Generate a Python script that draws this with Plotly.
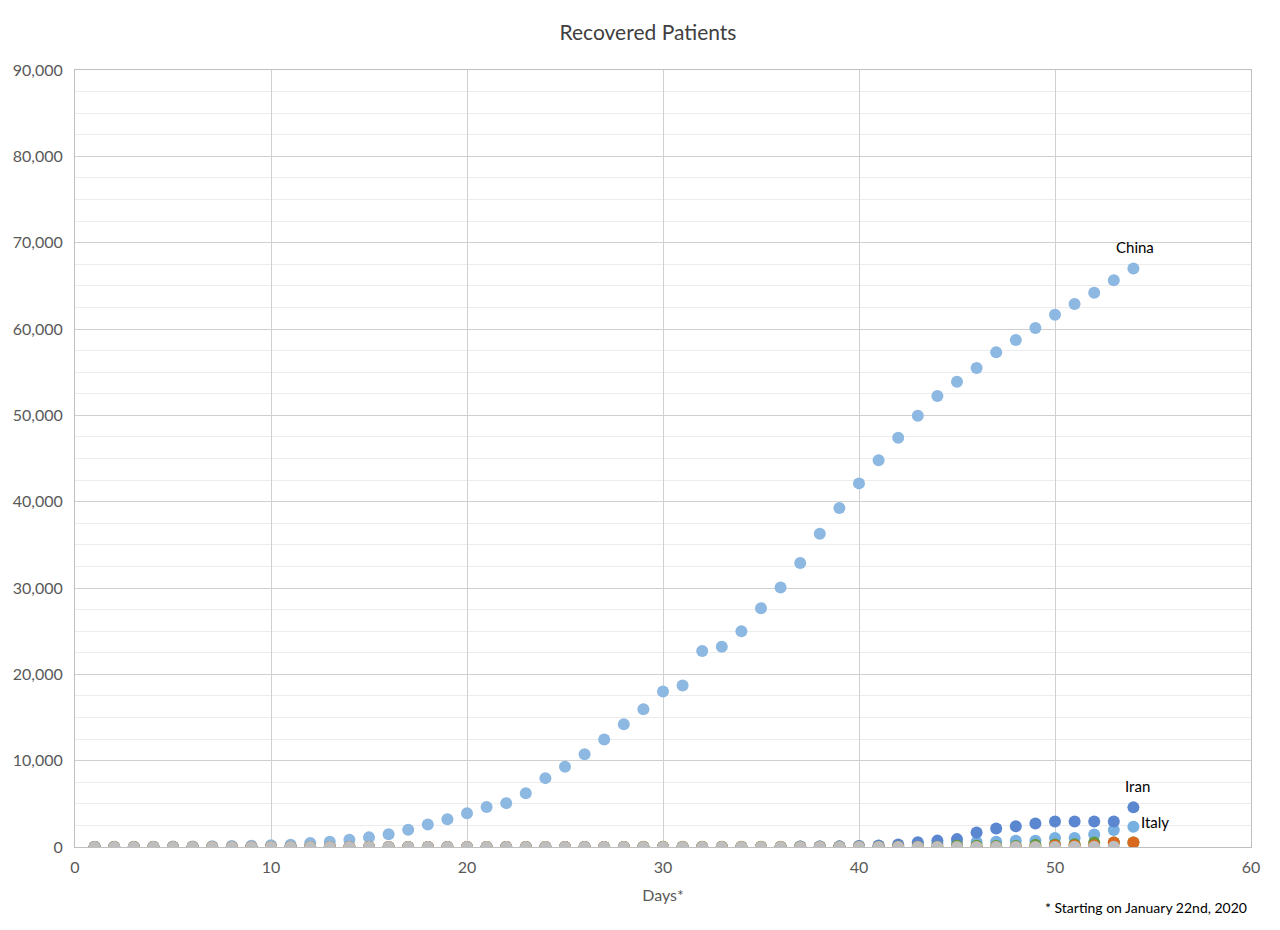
import plotly.graph_objects as go

# Tage seit dem 22. Januar 2020
days = list(range(1, 55))

china = [28, 30, 36, 39, 49, 58, 101, 120, 135, 214,
         275, 463, 614, 843, 1115, 1476, 1998, 2595, 3218, 3918,
         4636, 5082, 6217, 7977, 9298, 10755, 12462, 14206, 15962, 18014,
         18704, 22699, 23187, 24990, 27650, 30053, 32898, 36291, 39279, 42118,
         44810, 47404, 49955, 52240, 53888, 55478, 57320, 58735, 60106, 61644,
         62901, 64196, 65660, 67017]

italy = [0] * 33 + [1, 1, 3, 45, 46, 46, 83, 149, 160, 276, 414, 523, 589, 622,
                    724, 724, 1045, 1045, 1439, 1966, 2335]

iran = [0] * 36 + [49, 49, 73, 123, 175, 291, 552, 739, 913, 1669, 2134,
                   2394, 2731, 2959, 2959, 2959, 2959, 4590]

korea = [0] * 15 + [1, 1, 1, 3, 3, 3, 7, 7, 7, 7, 9, 10, 12, 16, 16, 16, 16,
                    18, 18, 22, 22, 22, 22, 27, 30, 30, 30, 30, 41, 135, 135,
                    118, 118, 247, 288, 333, 510, 510, 510]

spain = [0] * 24 + [2] * 25 + [183, 183, 193, 517, 517]

usa = [0] * 9 + [1, 1, 1, 1, 1, 1, 1, 1, 1, 3, 3, 3, 3, 3, 3, 3, 3, 3, 3, 3,
                 5, 5, 5, 5, 5, 6, 6, 7, 7, 7, 7, 7, 7, 7, 7, 7, 8, 8, 8, 12,
                 12, 17, 17, 17]

series = [
    ("China", china, "#8db8e2"),
    ("Italy", italy, "#78b0e2"),
    ("Iran", iran, "#5b86d0"),
    ("South Korea", korea, "#5f9a3e"),
    ("Spain", spain, "#d9691e"),
    ("US", usa, "#bebebe"),
]

fig = go.Figure()
for name, vals, color in series:
    fig.add_trace(go.Scatter(
        x=days, y=vals, mode="markers", name=name,
        marker=dict(size=12, color=color, line=dict(width=0)),
    ))

font = "Lato, Open Sans, sans-serif"

# Beschriftungen direkt an den letzten Punkten
fig.add_annotation(x=54, y=china[-1], text="China", showarrow=False,
                   yshift=21, xshift=2, font=dict(size=15, color="#000000"))
fig.add_annotation(x=54, y=iran[-1], text="Iran", showarrow=False,
                   yshift=21, xshift=4, font=dict(size=15, color="#000000"))
fig.add_annotation(x=54, y=italy[-1], text="Italy", showarrow=False,
                   xanchor="left", xshift=6, yshift=5, font=dict(size=15, color="#000000"))
fig.add_annotation(x=1, y=0, xref="paper", yref="paper", text="* Starting on January 22nd, 2020",
                   showarrow=False, xanchor="right", yanchor="top", xshift=-2, yshift=-50,
                   font=dict(size=14, color="#000000"))

fig.update_layout(
    width=1280, height=930,
    title=dict(text="Recovered Patients", x=0.5, xanchor="center", y=0.973, yanchor="middle",
               font=dict(size=21, color="#404040")),
    font=dict(family=font, size=16, color="#595959"),
    paper_bgcolor="white", plot_bgcolor="white",
    showlegend=False,
    margin=dict(l=67, r=37, t=62, b=91),
    xaxis=dict(
        range=[0, 60], dtick=10, tick0=0,
        title=dict(text="Days*", font=dict(size=16, color="#595959"), standoff=14),
        showgrid=True, gridcolor="#d0d0d0", gridwidth=1,
        showline=True, linecolor="#bfbfbf", linewidth=1, mirror=True,
        zeroline=False, ticks="", ticklabelstandoff=6, automargin=False,
    ),
    yaxis=dict(
        range=[0, 90000], dtick=10000, tickformat=",",
        showgrid=True, gridcolor="#d0d0d0", gridwidth=1,
        minor=dict(dtick=2500, showgrid=True, gridcolor="#ececec", gridwidth=1),
        showline=True, linecolor="#bfbfbf", linewidth=1, mirror=True,
        zeroline=False, ticks="", ticklabelstandoff=8, automargin=False,
    ),
)

fig.write_html("out.html")
